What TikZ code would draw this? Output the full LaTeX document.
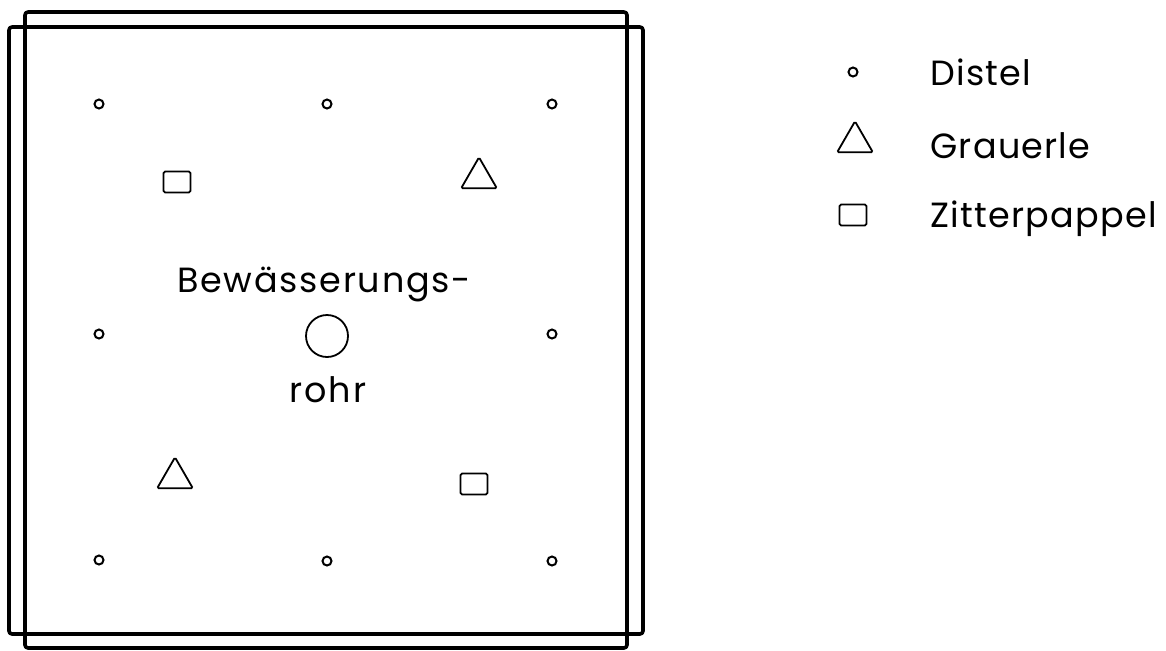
\documentclass[tikz,border=0pt]{standalone}
\usepackage{fontspec}
\newfontfamily\labfont[LetterSpace=5]{Poppins}
\newfontfamily\legfont[LetterSpace=3.5]{Poppins}
\usetikzlibrary{shapes.geometric}
\tikzset{
  frame/.style={line width=1.8pt, line join=round, rounded corners=1.5pt},
  distel/.style={circle, draw, line width=1pt, minimum size=4.5pt, inner sep=0pt},
  pappel/.style={rectangle, draw, line width=0.9pt, rounded corners=0.8pt, minimum width=13.5pt, minimum height=10.5pt, inner sep=0pt},
  erle/.style={isosceles triangle, isosceles triangle apex angle=60, shape border rotate=90, draw, line width=0.9pt, rounded corners=0.8pt, minimum width=17.5pt, minimum height=15.5pt, inner sep=0pt},
  rohrc/.style={circle, draw, line width=0.9pt, minimum size=21pt, inner sep=0pt},
  lab/.style={font=\labfont\fontsize{17.5}{20}\selectfont, inner sep=0pt},
  leg/.style={font=\legfont\fontsize{17.5}{20}\selectfont, inner sep=0pt},
}
\begin{document}
\begin{tikzpicture}[x=0.5pt,y=-0.5pt]
\useasboundingbox (0,0) rectangle (1166,650);
% frames
\draw[frame] (25,12) rectangle (627,648);
\draw[frame] (9,27) rectangle (643,634);
% Distel
\node[distel] (d1) at (99,104) {};
\node[distel] (d2) at (327,104) {};
\node[distel] (d3) at (552,104) {};
\node[distel] (d4) at (99,334) {};
\node[distel] (d5) at (552,334) {};
\node[distel] (d6) at (99,560) {};
\node[distel] (d7) at (327,561) {};
\node[distel] (d8) at (552,561) {};
% Zitterpappel
\node[pappel] (z1) at (177,182) {};
\node[pappel] (z2) at (474,484) {};
% Grauerle
\node[erle] (g1) at (479,178) {};
\node[erle] (g2) at (175,478) {};
% Rohr
\node[rohrc] (r) at (327,336) {};
\node[lab, anchor=base] (t1) at (324,292) {Bewässerungs-};
\node[lab, anchor=base] (t2) at (328,402) {rohr};
% legend
\node[distel] (ld) at (853,72) {};
\node[erle] (lg) at (855,142) {};
\node[pappel] (lz) at (853,215) {};
\node[leg, anchor=base west] (ltd) at (930,85) {Distel};
\node[leg, anchor=base west] (ltg) at (930,158) {Grauerle};
\node[leg, anchor=base west] (ltz) at (930,227) {Zitterpappel};
\end{tikzpicture}
\end{document}
